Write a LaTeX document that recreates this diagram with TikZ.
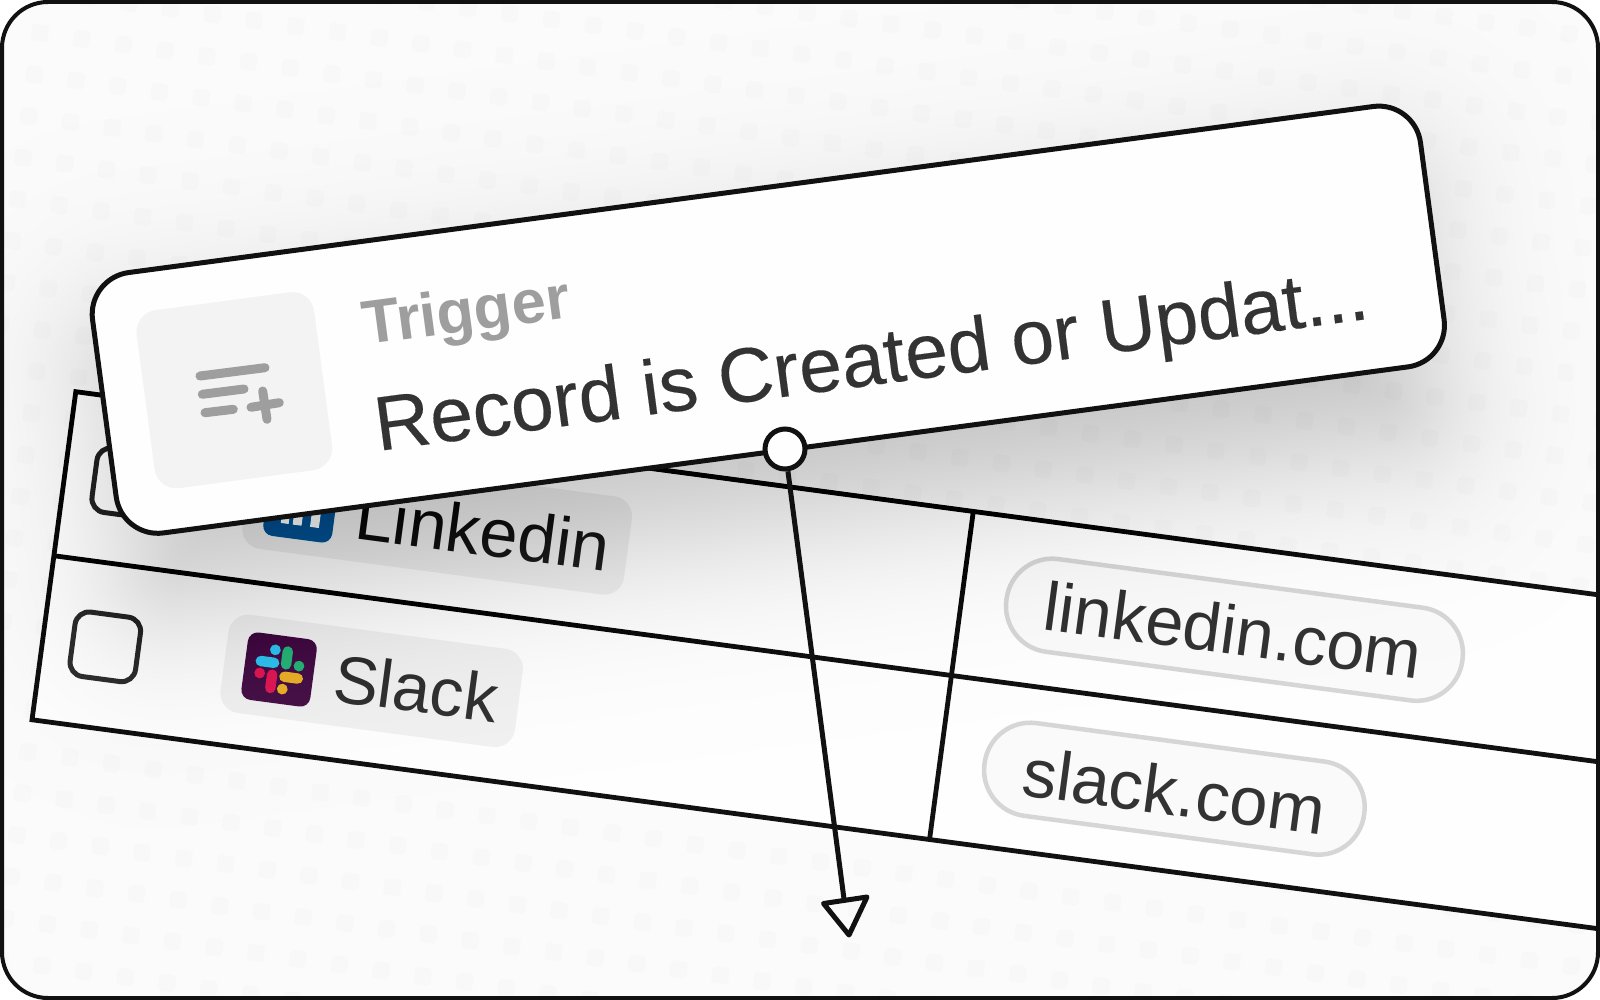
\documentclass[tikz,border=0pt]{standalone}
\usepackage{fontspec}
\setmainfont{Liberation Sans}
\newfontfamily\mainfont[FakeBold=0.2]{Liberation Sans}
\definecolor{ink}{HTML}{111111}
\definecolor{bgcol}{HTML}{FBFBFB}
\definecolor{dotcol}{HTML}{F8F8F8}
\definecolor{cellcol}{HTML}{FEFEFE}
\definecolor{chipcol}{HTML}{F1F1F1}
\definecolor{pillcol}{HTML}{FAFAFA}
\definecolor{pilledge}{HTML}{D6D6D6}
\definecolor{txt}{HTML}{333333}
\definecolor{muted}{HTML}{9E9E9E}
\definecolor{tilecol}{HTML}{F3F3F3}
\definecolor{liblue}{HTML}{0A6FA6}
\definecolor{slackbg}{HTML}{4A154B}
\definecolor{sblue}{HTML}{36C5F0}
\definecolor{sgreen}{HTML}{2EB67D}
\definecolor{syellow}{HTML}{ECB22E}
\definecolor{sred}{HTML}{E01E5A}
\tikzset{
  x=1pt,y=-1pt,
  tableline/.style={draw=ink,line width=4.8pt},
  checkbox/.style={draw=txt,line width=5pt,rounded corners=14pt},
  pillbox/.style={draw=pilledge,fill=pillcol,line width=4.5pt,rounded corners=46pt},
  celltext/.style={inner sep=0pt,anchor=base west,rotate=-7.6,text=txt,font=\fontsize{68.5}{72}\selectfont},
  cardtext/.style={inner sep=0pt,anchor=base west,rotate=7.6},
  glyphline/.style={draw=muted,line width=9pt,line cap=round},
  slackpill/.style={line width=10.4pt,line cap=round},
  portnode/.style={circle,draw=ink,fill=cellcol,line width=5pt,minimum size=40pt,inner sep=0pt},
  arrowline/.style={draw=ink,line width=5pt},
}
\begin{document}
\begin{tikzpicture}
\useasboundingbox (0,0) rectangle (1600,1000);
\begin{scope}
\clip[rounded corners=46pt] (2,2) rectangle (1598,998);
\fill[bgcol] (0,0) rectangle (1600,1000);
% dot grid
\foreach \i in {-6,...,42}{\foreach \j in {-6,...,30}{
  \pgfmathsetmacro\dx{40+41.7*\i-5.6*\j}
  \pgfmathsetmacro\dy{33+5.8*\i+41.6*\j}
  \fill[dotcol,rounded corners=4pt,shift={(\dx,\dy)},rotate=-7.6] (-8.5,-8.5) rectangle (8.5,8.5);
}}
% table
\begin{scope}[shift={(75.8,391.7)},rotate=-7.6]
  \fill[cellcol] (0,0) rectangle (1750,331);
  \fill[chipcol,rounded corners=20pt] (183,32.5) rectangle (568,131.5);
  \fill[chipcol,rounded corners=20pt] (183,198) rectangle (480,297);
  \draw[checkbox] (30,51) rectangle (96,116);
  \draw[checkbox] (30,216.5) rectangle (96,281.5);
  % linkedin icon
  \fill[liblue,rounded corners=10pt] (203.5,49) rectangle (273,117);
  \fill[cellcol] (220.5,80) rectangle (228.5,103);
  \fill[cellcol] (232.5,80) rectangle (241.5,103);
  \fill[cellcol] (250,80) rectangle (259,103);
  % slack icon
  \fill[slackbg,rounded corners=10pt] (203.5,214.5) rectangle (273,282.5);
  \begin{scope}[shift={(238.5,248.5)}]
    \draw[slackpill,sblue] (-19.5,-6) -- (-6,-6);
    \fill[sblue] (-6.5,-19) circle (5.4);
    \draw[slackpill,sgreen] (6,-19) -- (6,-6);
    \fill[sgreen] (19,-6) circle (5.4);
    \draw[slackpill,syellow] (6,6.5) -- (19.5,6.5);
    \fill[syellow] (5.5,19) circle (5.4);
    \draw[slackpill,sred] (-6.5,6) -- (-6.5,19.5);
    \fill[sred] (-19,6) circle (5.4);
  \end{scope}
  % pills
  \draw[pillbox] (950,36) rectangle (1410,129.5);
  \draw[pillbox] (950,201.5) rectangle (1333,295);
  % grid lines
  \draw[tableline] (1750,0) -- (0,0) -- (0,331) -- (1750,331);
  \draw[tableline] (0,165.5) -- (1750,165.5);
  \draw[tableline] (905.5,0) -- (905.5,331);
\end{scope}
\node[celltext] (linkedinlabel) at (353,538) {Linkedin};
\node[celltext,font=\fontsize{67.5}{72}\selectfont] (slacklabel) at (331,701) {Slack};
\node[celltext] (linkedinurl) at (1041,629) {linkedin.com};
\node[celltext] (slackurl) at (1020,795) {slack.com};
% shadow
\begin{scope}[shift={(769.2,389.6)},rotate=7.6]
  \foreach \i in {0,...,59}{
    \pgfmathsetmacro\e{80*ln((\i+.5)/(59.5-\i))/1.702}
    \pgfmathsetmacro\rr{max(12,42+0.9*\e)}
    \pgfmathparse{\e>-70?1:0}
    \ifnum\pgfmathresult=1
      \fill[black,opacity=0.0045,rounded corners=\rr pt] (-650.75-\e,-131.35-\e) rectangle (650.75+\e,131.35+\e);
    \fi
  }
\end{scope}
% card
\begin{scope}[shift={(769.2,319.6)},rotate=7.6]
  \draw[draw=ink,fill=cellcol,line width=5pt,rounded corners=42pt] (-670.75,-131.35) rectangle (669,131.35);
  \fill[tilecol,rounded corners=22pt] (-629,-90.5) rectangle (-450,89);
\end{scope}
\draw[glyphline] (200,376) -- (265,367.7);
\draw[glyphline] (202.3,394.3) -- (244,389);
\draw[glyphline] (205,412.7) -- (233.3,409.3);
\draw[glyphline] (251,407.3) -- (279.3,402.7);
\draw[glyphline] (262.7,391) -- (267,419.3);
\node[cardtext,text=muted,font=\bfseries\fontsize{61.5}{66}\selectfont] (triggerlabel) at (365,345) {Trigger};
\node[cardtext,text=txt,font=\mainfont\fontsize{77}{80}\selectfont] (recordlabel) at (378,451) {Record is Created or Updat...};
% connector
\node[portnode] (port) at (785,449) {};
\coordinate (tipbase) at (844,899);
\draw[arrowline] (port) -- (tipbase);
\coordinate (tipa) at (823.5,903.5);
\coordinate (tipb) at (867,897);
\coordinate (tipc) at (849,935);
\draw[draw=ink,line width=5pt,line join=round] (tipa) -- (tipb) -- (tipc) -- cycle;
\end{scope}
\draw[draw=ink,line width=4pt,rounded corners=46pt] (2,2) rectangle (1598,998);
\end{tikzpicture}
\end{document}
